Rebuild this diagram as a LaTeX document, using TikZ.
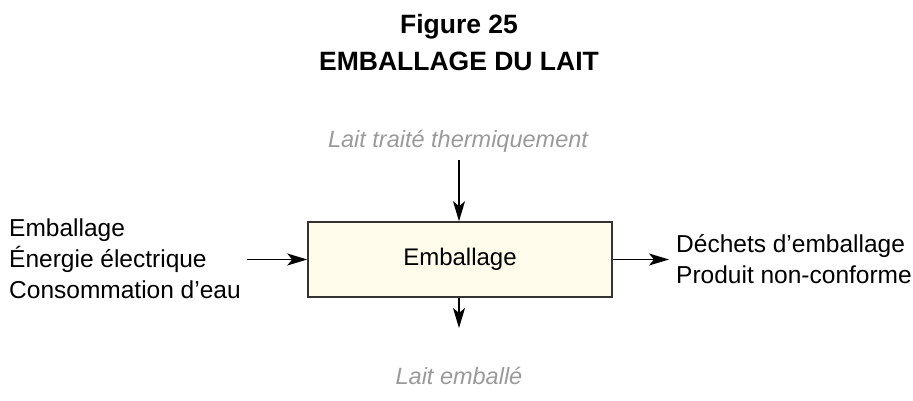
\documentclass[tikz,border=0pt]{standalone}
\usepackage{fontspec}
\setmainfont{Liberation Sans}
\usetikzlibrary{arrows.meta}
\definecolor{boxfill}{HTML}{FFFCEC}
\definecolor{softgray}{HTML}{9A9A9A}
\tikzset{
  flow/.style={line width=1.3pt, -{Stealth[length=20pt,width=12pt,inset=5pt]}},
  lbl/.style={font=\fontsize{24.5}{31}\selectfont, inner sep=0pt},
  grylbl/.style={font=\fontsize{23.5}{28}\selectfont\itshape, text=softgray, inner sep=0pt},
  procbox/.style={draw=black!80, line width=1.6pt, fill=boxfill, minimum width=304pt, minimum height=75pt, inner sep=0pt,
    font=\fontsize{24}{28}\selectfont},
  ttl/.style={font=\fontsize{26.5}{32}\selectfont\bfseries},
}
\begin{document}
\begin{tikzpicture}[x=1pt,y=-1pt]
  \useasboundingbox (0,0) rectangle (913,401);
  % title
  \node[ttl] (t1) at (459,27) {Figure 25};
  \node[ttl] (t2) at (459,61) {EMBALLAGE DU LAIT};
  % process box
  \node[procbox] (box) at (460,259.5) {Emballage};
  % inputs and outputs
  \node[grylbl] (in) at (458,141) {Lait traité thermiquement};
  \node[grylbl] (out) at (459,376) {Lait emballé};
  \node[lbl, anchor=west, align=left] (left) at (9,259) {Emballage\\Énergie électrique\\Consommation d’eau};
  \node[lbl, anchor=west, align=left] (right) at (676,259) {Déchets d’emballage\\Produit non-conforme};
  % connector ends
  \coordinate (topstart) at (459,160);
  \coordinate (botend) at (459,328);
  \coordinate (lstart) at (247,259.5);
  \coordinate (rend) at (669,259.5);
  % flows
  \draw[flow] (topstart) -- (topstart |- box.north);
  \draw[flow] (botend |- box.south) -- (botend);
  \draw[flow] (lstart) -- (box.west);
  \draw[flow] (box.east) -- (rend);
\end{tikzpicture}
\end{document}
